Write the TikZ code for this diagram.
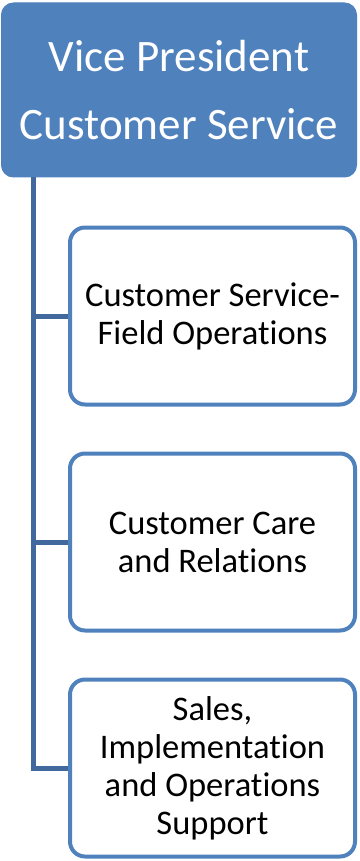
\documentclass[tikz,border=0pt]{standalone}
\usepackage{fontspec}
\setmainfont{Carlito}[Ligatures=NoCommon]
\definecolor{accent}{HTML}{4F81BD}
\definecolor{trunkblue}{HTML}{41699E}
\begin{document}
\begin{tikzpicture}[x=1pt,y=-1pt,
	headbox/.style={fill=accent,draw=accent,line width=1pt,rounded corners=12pt,text=white,
		align=center,minimum width=355pt,minimum height=174pt,inner sep=0pt,
		font=\fontsize{45}{68}\selectfont},
	unitbox/.style={fill=white,draw=accent,line width=4pt,rounded corners=15pt,text=black,
		align=center,minimum width=285pt,minimum height=177pt,inner sep=0pt,
		font=\fontsize{34.5}{38}\selectfont},
	conn/.style={draw=trunkblue,line width=5pt}]
		\useasboundingbox(0,0)rectangle(359,861);
		\node[headbox](vp)at(179,90){Vice President\\Customer Service};
		\node[unitbox](s1)at(212.5,316){Customer Service-\\Field Operations};
		\node[unitbox](s2)at(212.5,542){Customer Care\\and Relations};
		\node[unitbox](s3)at(212.5,768){Sales,\\Implementation\\and Operations\\Support};
		\coordinate(trunk)at(33,0);
		\draw[conn](vp.south-|trunk)|-(s3.west);
		\foreach\s in{s1,s2}{\draw[conn](trunk|-\s.west)--(\s.west);}
		\end{tikzpicture}
\end{document}
